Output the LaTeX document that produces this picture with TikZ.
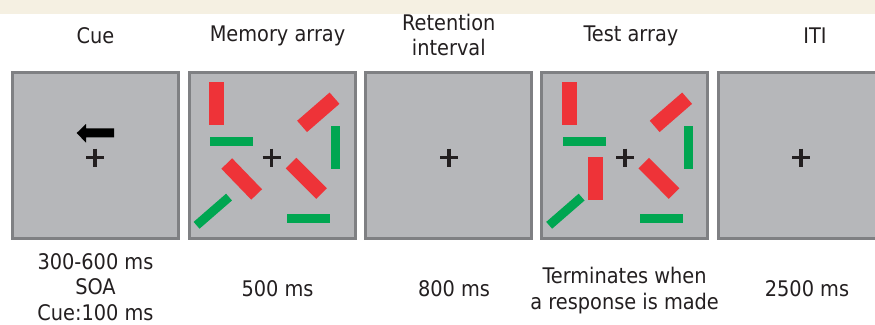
\documentclass[tikz,border=0pt]{standalone}
\usepackage{fontspec}
\setmainfont{DejaVu Sans Condensed}
\usetikzlibrary{positioning}

\definecolor{bandbeige}{HTML}{F5F0E2}
\definecolor{screengray}{HTML}{B6B7BA}
\definecolor{framegray}{HTML}{7F8083}
\definecolor{barred}{HTML}{EE3338}
\definecolor{bargreen}{HTML}{00A651}
\definecolor{inkgray}{HTML}{231F20}

\tikzset{
  screen/.style={draw=framegray, fill=screengray, line width=3pt, minimum size=166pt, inner sep=0pt},
  redbar/.style={fill=barred, minimum width=43pt, minimum height=15pt, inner sep=0pt},
  greenbar/.style={fill=bargreen, minimum width=43pt, minimum height=9pt, inner sep=0pt},
  fixcross/.style={draw=inkgray, line width=3.5pt},
  label/.style={text=inkgray, align=center, inner sep=1pt, font=\fontsize{21.5}{25.5}\selectfont}
}

\begin{document}
\begin{tikzpicture}[x=1pt, y=-1pt]
	\useasboundingbox (0,0) rectangle (875,324);
	\clip (0,0) rectangle (875,324);
	\fill[bandbeige] (0,0) rectangle (875,14);
	
	% screens
	\node[screen] (cue) at (95.5,155) {};
	\node[screen] (mem) at (272.2,155) {};
	\node[screen] (ret) at (448.8,155) {};
	\node[screen] (test) at (624.8,155) {};
	\node[screen] (iti) at (801.8,155) {};
	
	% fixation crosses
	\foreach \cx in {95,271.7,449,625,801}
		\draw[fixcross] (\cx-9,157.7) -- (\cx+9,157.7) (\cx,148.7) -- (\cx,166.7);
	
	% cue arrow
	\fill[black] (76.7,133) -- (86,124) -- (86,128.3) -- (114,128.3) -- (114,137.3) -- (86,137.3) -- (86,142.7) -- cycle;
	
	% bars shared by memory and test arrays
	\foreach \dx in {0,352.6} {
		\node[redbar, rotate=90] (r1) at (216.7+\dx,103.5) {};
		\node[greenbar] (g1) at (231.5+\dx,141.5) {};
		\node[redbar, rotate=41] (r2) at (318.3+\dx,112.3) {};
		\node[greenbar, rotate=90] (g2) at (335.5+\dx,147.5) {};
		\node[redbar, rotate=-45] (r3) at (306.3+\dx,178.3) {};
		\node[greenbar, rotate=41] (g3) at (212.8+\dx,211.2) {};
		\node[greenbar] (g4) at (308.5+\dx,218.7) {};
	}
	\node[redbar, rotate=-46] (memr4) at (241.7,179) {};
	\node[redbar, rotate=90] (testr4) at (595.5,178.3) {};
	
	% titles
	\node[label] (cuet) at (95.5,36) {Cue};
	\node[label] (memt) at (277.5,36) {Memory array};
	\node[label] (rett) at (448.8,35) {Retention\\interval};
	\node[label] (testt) at (631,36) {Test array};
	\node[label] (itit) at (815,36) {ITI};
	
	% durations
	\node[label] (cued) at (95.5,287) {300-600 ms\\SOA\\Cue:100 ms};
	\node[label] (memd) at (277.5,289) {500 ms};
	\node[label] (retd) at (454,289) {800 ms};
	\node[label] (testd) at (624.7,290.5) {Terminates when\\a response is made};
	\node[label] (itid) at (807,289) {2500 ms};
\end{tikzpicture}
\end{document}
